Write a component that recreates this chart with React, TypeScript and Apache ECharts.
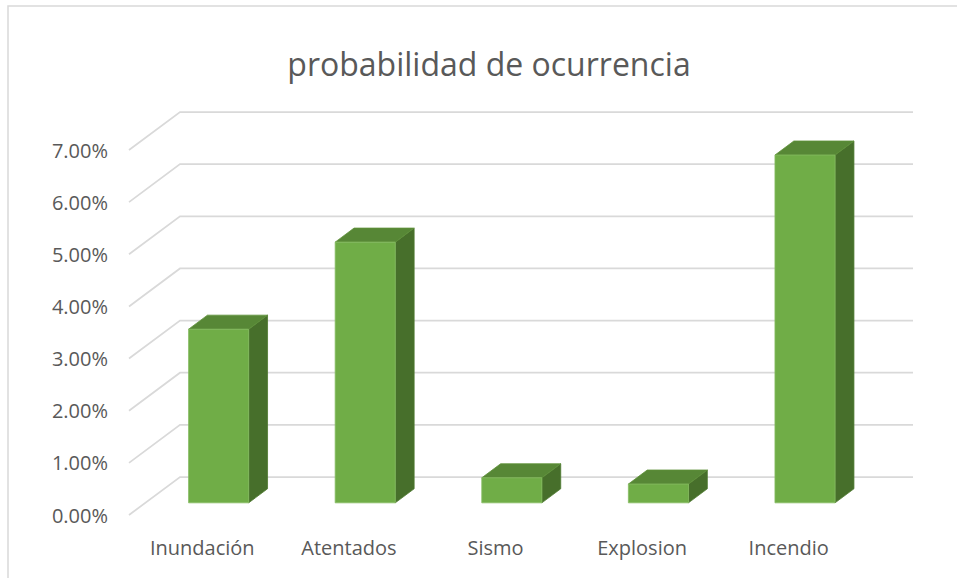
import React, { useEffect, useRef } from "react";
import * as echarts from "echarts";

const categories = ["Inundación", "Atentados", "Sismo", "Explosion", "Incendio"];
const probabilities = [0.0333, 0.05, 0.0048, 0.0036, 0.0667];
const tickValues = [0, 0.01, 0.02, 0.03, 0.04, 0.05, 0.06, 0.07];
const titleText = "probabilidad de ocurrencia";

const FONT = "'Open Sans', 'Noto Sans', sans-serif";
const DX = 51; // depth offset x (front plane -> back wall)
const DY = 38; // depth offset y

export default function App() {
  const ref = useRef<HTMLDivElement>(null);

  useEffect(() => {
    if (!ref.current) return;
    const chart = echarts.init(ref.current, null, { renderer: "svg" });

    const option: any = {
      animation: false,
      backgroundColor: "#ffffff",
      grid: { left: 129, right: 95, top: 150, bottom: 63 },
      xAxis: {
        type: "category",
        data: categories,
        axisLine: { show: false },
        axisTick: { show: false },
        splitLine: { show: false },
        axisLabel: {
          color: "#595959",
          fontSize: 20,
          fontFamily: FONT,
          margin: 22,
        },
      },
      yAxis: {
        type: "value",
        min: 0,
        max: 0.07,
        interval: 0.01,
        axisLine: { show: false },
        axisTick: { show: false },
        splitLine: { show: false },
        axisLabel: {
          color: "#595959",
          fontSize: 20,
          fontFamily: FONT,
          margin: 21,
          formatter: (v: number) => (v * 100).toFixed(2) + "%",
        },
      },
      graphic: [
        {
          type: "rect",
          shape: { x: 8, y: 6, width: 1200, height: 1200 },
          style: { fill: "none", stroke: "#D9D9D9", lineWidth: 1.5 },
          silent: true,
          z: 0,
        },
        {
          type: "text",
          x: 489,
          y: 63,
          style: {
            text: titleText,
            fill: "#595959",
            font: `32px ${FONT}`,
            textAlign: "center",
            textVerticalAlign: "middle",
          },
        },
      ],
      series: [
        {
          type: "custom",
          name: "grid",
          silent: true,
          z: 1,
          data: tickValues.map((v) => [0, v]),
          renderItem: (params: any, api: any) => {
            const cs = params.coordSys;
            const p = api.coord([0, api.value(1)]);
            const y = p[1];
            return {
              type: "polyline",
              shape: {
                points: [
                  [cs.x, y],
                  [cs.x + DX, y - DY],
                  [cs.x + cs.width + DX, y - DY],
                ],
              },
              style: { stroke: "#D9D9D9", lineWidth: 1.75, fill: "none" },
            };
          },
        },
        {
          type: "custom",
          name: "probabilidad de ocurrencia",
          z: 2,
          data: probabilities.map((v, i) => [i, v]),
          renderItem: (params: any, api: any) => {
            const idx = api.value(0);
            const val = api.value(1);
            const base = api.coord([idx, 0]);
            const top = api.coord([idx, val]);
            const band = api.size([1, 0])[0];
            const w = band * 0.41;
            const fx = DX * 0.32;
            const fy = DY * 0.32;
            const dx = DX * 0.37;
            const dy = DY * 0.37;
            const cx = base[0] + fx;
            const L = cx - w / 2;
            const R = cx + w / 2;
            const B = base[1] - fy;
            const T = top[1] - fy;
            return {
              type: "group",
              children: [
                {
                  type: "polygon",
                  shape: {
                    points: [
                      [R, T],
                      [R + dx, T - dy],
                      [R + dx, B - dy],
                      [R, B],
                    ],
                  },
                  style: { fill: "#476F2B", stroke: "#4E7A30", lineWidth: 0.8 },
                },
                {
                  type: "polygon",
                  shape: {
                    points: [
                      [L, T],
                      [R, T],
                      [R + dx, T - dy],
                      [L + dx, T - dy],
                    ],
                  },
                  style: { fill: "#578736", stroke: "#5E9039", lineWidth: 0.8 },
                },
                {
                  type: "rect",
                  shape: { x: L, y: T, width: w, height: B - T },
                  style: { fill: "#70AD47", stroke: "#86BD62", lineWidth: 0.8 },
                },
              ],
            };
          },
        },
      ],
    };

    chart.setOption(option);
    return () => chart.dispose();
  }, []);

  return (
    <div
      ref={ref}
      style={{ position: "absolute", left: 0, top: 0, width: 957, height: 578 }}
    />
  );
}
